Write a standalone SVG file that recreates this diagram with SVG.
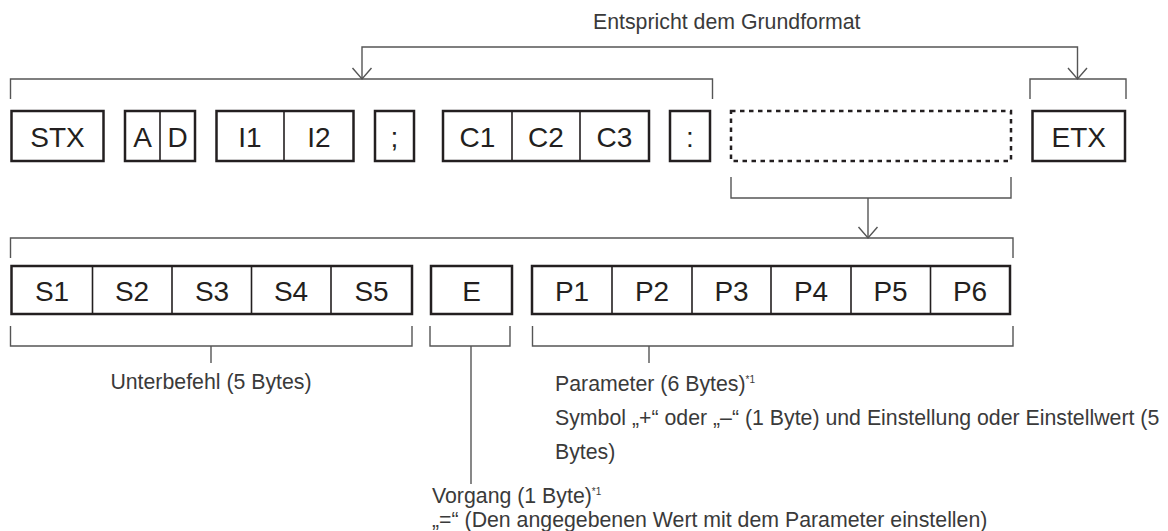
<svg xmlns="http://www.w3.org/2000/svg" width="1168" height="531" viewBox="0 0 1168 531">
<style>
.box{fill:#fff;stroke:#231f20;stroke-width:2.5}
.div{stroke:#231f20;stroke-width:1.6;fill:none}
.dash{fill:none;stroke:#231f20;stroke-width:2.5;stroke-dasharray:4.5 4.5}
.br{fill:none;stroke:#555;stroke-width:1.4}
.lbl{font-family:"Liberation Sans",Arial,sans-serif;font-size:28px;fill:#231f20;text-anchor:middle}
.txt{font-family:"Liberation Sans",Arial,sans-serif;font-size:21.3px;fill:#3a3a3a}
.sup{font-size:10px}
</style>
<rect width="1168" height="531" fill="#fff"/>
<g id="connectors">
<polyline class="br" points="362,79 362,47 1077.5,47 1077.5,79"/>
<polyline class="br" points="352.5,68 362,79 371.5,68"/>
<polyline class="br" points="1068,68 1077.5,79 1087,68"/>
<polyline class="br" points="10.5,99 10.5,79 712.5,79 712.5,99"/>
<polyline class="br" points="1030,99 1030,79 1126,79 1126,99"/>
<polyline class="br" points="731,177 731,198 1011,198 1011,177"/>
<line class="br" x1="868" y1="198" x2="868" y2="238"/>
<polyline class="br" points="858.5,227 868,238 877.5,227"/>
<polyline class="br" points="10.5,258 10.5,238 1013,238 1013,258"/>
<polyline class="br" points="10.5,326 10.5,346 412,346 412,326"/>
<polyline class="br" points="430,326 430,346 510,346 510,326"/>
<polyline class="br" points="532.5,326 532.5,346 1013,346 1013,326"/>
<line class="br" x1="211" y1="346" x2="211" y2="363"/>
<line class="br" x1="471" y1="346" x2="471" y2="484"/>
<line class="br" x1="649" y1="346" x2="649" y2="363"/>
</g>
<g id="stx"><rect class="box" x="11.5" y="111" width="92" height="50"/><text class="lbl" x="57.5" y="146.5">STX</text></g>
<g id="ad"><rect class="box" x="125" y="111" width="70" height="50"/><line class="div" x1="160" y1="111" x2="160" y2="161"/><text class="lbl" x="142.5" y="146.5">A</text><text class="lbl" x="177.5" y="146.5">D</text></g>
<g id="i1i2"><rect class="box" x="216.5" y="111" width="137" height="50"/><line class="div" x1="284" y1="111" x2="284" y2="161"/><text class="lbl" x="250" y="146.5">I1</text><text class="lbl" x="319" y="146.5">I2</text></g>
<g id="semicolon"><rect class="box" x="375" y="111" width="39" height="50"/><text class="lbl" x="394.5" y="146.5">;</text></g>
<g id="c123"><rect class="box" x="443" y="111" width="206" height="50"/><line class="div" x1="512" y1="111" x2="512" y2="161"/><line class="div" x1="580" y1="111" x2="580" y2="161"/><text class="lbl" x="477.5" y="146.5">C1</text><text class="lbl" x="546" y="146.5">C2</text><text class="lbl" x="614.5" y="146.5">C3</text></g>
<g id="colon"><rect class="box" x="670" y="111" width="40" height="50"/><text class="lbl" x="690" y="146.5">:</text></g>
<g id="dashed"><rect class="dash" x="731" y="111" width="280" height="50"/></g>
<g id="etx"><rect class="box" x="1032.5" y="111" width="92.5" height="50"/><text class="lbl" x="1078.75" y="146.5">ETX</text></g>
<g id="s15"><rect class="box" x="11.5" y="266" width="400.5" height="48"/>
<line class="div" x1="92.5" y1="266" x2="92.5" y2="314"/><line class="div" x1="172" y1="266" x2="172" y2="314"/><line class="div" x1="251.5" y1="266" x2="251.5" y2="314"/><line class="div" x1="331" y1="266" x2="331" y2="314"/>
<text class="lbl" x="52" y="300.5">S1</text><text class="lbl" x="132" y="300.5">S2</text><text class="lbl" x="212" y="300.5">S3</text><text class="lbl" x="291" y="300.5">S4</text><text class="lbl" x="371.5" y="300.5">S5</text></g>
<g id="e"><rect class="box" x="431" y="266" width="81" height="48"/><text class="lbl" x="471.5" y="300.5">E</text></g>
<g id="p16"><rect class="box" x="532" y="266" width="478" height="48"/>
<line class="div" x1="612" y1="266" x2="612" y2="314"/><line class="div" x1="692" y1="266" x2="692" y2="314"/><line class="div" x1="771" y1="266" x2="771" y2="314"/><line class="div" x1="851" y1="266" x2="851" y2="314"/><line class="div" x1="930.5" y1="266" x2="930.5" y2="314"/>
<text class="lbl" x="572" y="300.5">P1</text><text class="lbl" x="652" y="300.5">P2</text><text class="lbl" x="731.5" y="300.5">P3</text><text class="lbl" x="811" y="300.5">P4</text><text class="lbl" x="890.5" y="300.5">P5</text><text class="lbl" x="970" y="300.5">P6</text></g>
<g id="labels">
<text class="txt" x="593" y="29">Entspricht dem Grundformat</text>
<text class="txt" x="211" y="389" text-anchor="middle">Unterbefehl (5 Bytes)</text>
<text class="txt" x="555" y="391">Parameter (6 Bytes)<tspan class="sup" dy="-8">*1</tspan></text>
<text class="txt" x="555" y="425">Symbol „+“ oder „–“ (1 Byte) und Einstellung oder Einstellwert (5</text>
<text class="txt" x="555" y="459">Bytes)</text>
<text class="txt" x="432" y="503">Vorgang (1 Byte)<tspan class="sup" dy="-8">*1</tspan></text>
<text class="txt" x="432" y="527">„=“ (Den angegebenen Wert mit dem Parameter einstellen)</text>
</g>
</svg>
